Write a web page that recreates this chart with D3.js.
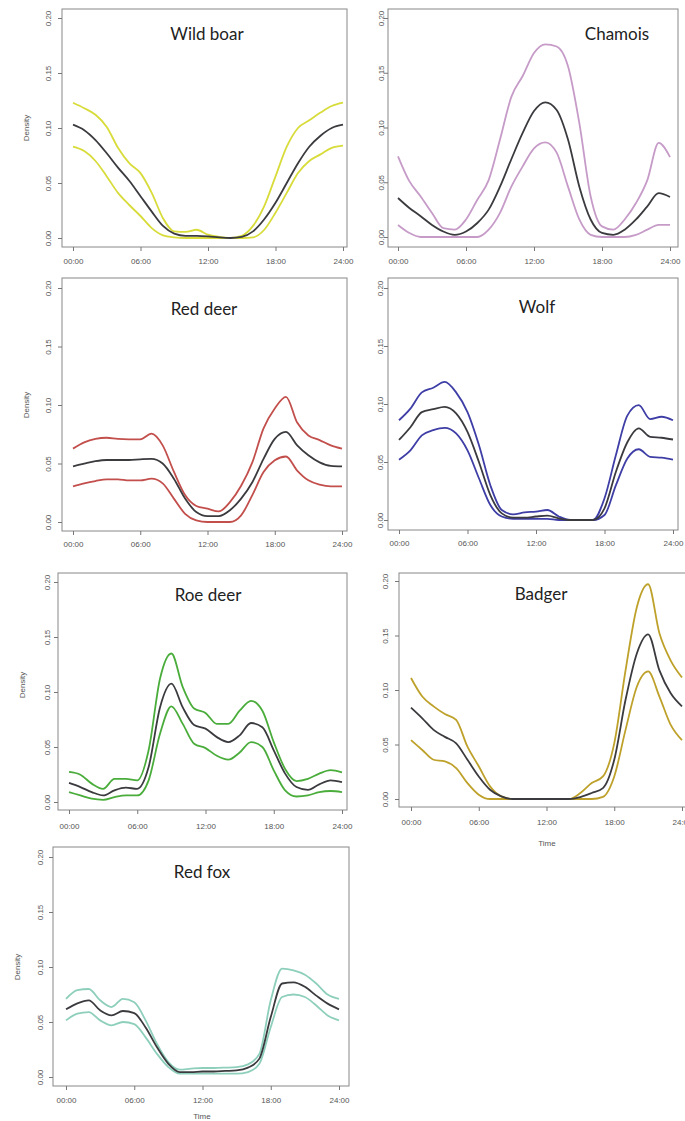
<!DOCTYPE html>
<html lang="en">
<head>
    <meta charset="UTF-8">
    <title>Daily activity density</title>
    <script src="https://d3js.org/d3.v7.min.js"></script>
    <style>
        body { margin: 0; background: #fff; }
        svg { display: block; }
        .tick text { font-family: "Liberation Sans", Arial, sans-serif; font-size: 8px; fill: #555; }
        .tick line { stroke: #777; }
        .title { font-family: Lato, "Open Sans", sans-serif; font-size: 17px; fill: #222; }
        .lab { font-family: "Liberation Sans", Arial, sans-serif; font-size: 8px; fill: #555; }
    </style>
</head>
<body>
<div id="chart"></div>
<script>
// hour of day (x)
const hours = [0,1,2,3,4,5,6,7,8,9,10,11,12,13,14,15,16,17,18,19,20,21,22,23,24];
const xTicks = [0, 6, 12, 18, 24];
const xTickLabels = ["00:00", "06:00", "12:00", "18:00", "24:00"];
const yTicks = [0, 0.05, 0.10, 0.15, 0.20];

// density: mean and confidence bounds, one value per hour
const boarMean  = [0.103,0.098,0.089,0.077,0.064,0.052,0.038,0.024,0.011,0.004,0.002,0.002,0.0015,0.0005,0,0.001,0.006,0.017,0.032,0.050,0.068,0.083,0.093,0.100,0.103];
const boarUpper = [0.123,0.118,0.112,0.101,0.082,0.068,0.059,0.041,0.018,0.006,0.0055,0.0075,0.003,0.001,0,0.002,0.011,0.029,0.056,0.083,0.100,0.107,0.114,0.120,0.123];
const boarLower = [0.083,0.079,0.070,0.056,0.041,0.030,0.020,0.009,0.0024,0.0006,0,0,0,0,0,0,0.0006,0.0075,0.023,0.041,0.059,0.070,0.076,0.082,0.084];

const chamoisMean  = [0.0356,0.0265,0.019,0.011,0.005,0.002,0.005,0.0128,0.025,0.046,0.071,0.095,0.115,0.123,0.116,0.089,0.046,0.016,0.0037,0.002,0.0067,0.016,0.028,0.040,0.0365];
const chamoisUpper = [0.0737,0.051,0.037,0.022,0.008,0.0067,0.016,0.034,0.052,0.089,0.128,0.147,0.168,0.176,0.174,0.156,0.104,0.037,0.0097,0.0067,0.016,0.031,0.052,0.086,0.073];
const chamoisLower = [0.011,0.0037,0,0,0,0,0,0,0.0067,0.022,0.046,0.0645,0.081,0.0865,0.077,0.046,0.016,0.002,0,0,0,0.002,0.0067,0.011,0.011];

const redDeerMean  = [0.0476,0.0499,0.052,0.053,0.053,0.053,0.0536,0.054,0.050,0.037,0.020,0.0085,0.005,0.005,0.010,0.020,0.034,0.054,0.071,0.077,0.0655,0.057,0.051,0.048,0.0476];
const redDeerUpper = [0.0627,0.068,0.071,0.072,0.071,0.0707,0.0707,0.0755,0.0655,0.043,0.023,0.0137,0.0114,0.009,0.017,0.031,0.051,0.080,0.097,0.107,0.085,0.074,0.070,0.0655,0.0627];
const redDeerLower = [0.0305,0.033,0.035,0.0365,0.0365,0.0356,0.0356,0.037,0.033,0.020,0.007,0.0014,0,0,0,0.0057,0.023,0.0427,0.0527,0.056,0.044,0.0356,0.032,0.0305,0.0305];

const wolfMean  = [0.069,0.080,0.093,0.0955,0.0976,0.092,0.076,0.050,0.0215,0.0057,0.002,0.002,0.003,0.0037,0.0014,0,0,0,0.010,0.0416,0.067,0.079,0.0717,0.0709,0.0694];
const wolfUpper = [0.086,0.096,0.110,0.114,0.119,0.110,0.093,0.0646,0.030,0.0086,0.0049,0.0066,0.0072,0.0086,0.003,0,0,0,0.0187,0.056,0.090,0.099,0.087,0.089,0.086];
const wolfLower = [0.052,0.060,0.073,0.0775,0.0795,0.0746,0.060,0.036,0.0129,0.003,0.001,0.001,0.001,0.001,0,0,0,0,0.0043,0.030,0.053,0.061,0.0545,0.0537,0.052];

const roeMean  = [0.0173,0.0136,0.009,0.006,0.0106,0.013,0.012,0.0318,0.086,0.1076,0.086,0.070,0.0667,0.059,0.0545,0.0606,0.0718,0.068,0.047,0.0258,0.0136,0.011,0.016,0.0197,0.018];
const roeUpper = [0.0273,0.0248,0.0167,0.012,0.021,0.021,0.0197,0.047,0.112,0.135,0.1045,0.085,0.081,0.071,0.071,0.083,0.092,0.083,0.0545,0.030,0.019,0.021,0.0258,0.029,0.027];
const roeLower = [0.009,0.006,0.003,0.002,0.0045,0.006,0.006,0.0197,0.062,0.087,0.071,0.053,0.049,0.042,0.0385,0.045,0.0545,0.050,0.0288,0.0106,0.005,0.006,0.009,0.010,0.009];

const badgerMean  = [0.0838,0.074,0.0634,0.057,0.051,0.036,0.0207,0.0085,0.0024,0,0,0,0,0,0,0.0018,0.0055,0.010,0.036,0.091,0.1335,0.151,0.118,0.097,0.085];
const badgerUpper = [0.111,0.094,0.085,0.078,0.0726,0.048,0.030,0.0116,0.0024,0,0,0,0,0,0,0.0055,0.0146,0.0207,0.051,0.118,0.176,0.197,0.152,0.127,0.1115];
const badgerLower = [0.054,0.045,0.036,0.0345,0.0284,0.0146,0.004,0,0,0,0,0,0,0,0,0,0,0.002,0.0207,0.0634,0.103,0.117,0.094,0.068,0.054];

const foxMean  = [0.0615,0.067,0.0697,0.0606,0.056,0.060,0.058,0.045,0.027,0.012,0.0045,0.0045,0.005,0.005,0.0055,0.006,0.0085,0.0167,0.0545,0.085,0.086,0.082,0.074,0.0667,0.0615];
const foxUpper = [0.071,0.079,0.080,0.0697,0.0636,0.071,0.068,0.0515,0.030,0.0136,0.0067,0.0076,0.0082,0.0082,0.0085,0.009,0.0115,0.021,0.0697,0.0985,0.097,0.093,0.085,0.075,0.071];
const foxLower = [0.0515,0.0576,0.059,0.0515,0.047,0.050,0.048,0.036,0.021,0.009,0.003,0.003,0.003,0.003,0.003,0.003,0.0045,0.012,0.0455,0.0727,0.075,0.0727,0.065,0.056,0.0515];

// panel layout (pixel positions of each pasted plot)
const panels = [
    { name: "Wild boar", color: "#d8dc3a", mean: boarMean, upper: boarUpper, lower: boarLower,
      box: [62, 9, 347, 247], xr: [73, 343], yr: [238, 18], yLabX: 48, xLabY: 262, title: [207, 40], density: [26, 128] },
    { name: "Chamois", color: "#c69bc8", mean: chamoisMean, upper: chamoisUpper, lower: chamoisLower,
      box: [388, 9, 678, 247], xr: [398, 670], yr: [237, 18], yLabX: 381, xLabY: 262, title: [617, 40] },
    { name: "Red deer", color: "#c24f4c", mean: redDeerMean, upper: redDeerUpper, lower: redDeerLower,
      box: [62, 278, 347, 531], xr: [73, 342], yr: [522, 288], yLabX: 48, xLabY: 545, title: [204, 315], density: [26, 405] },
    { name: "Wolf", color: "#3e3ea6", mean: wolfMean, upper: wolfUpper, lower: wolfLower,
      box: [388, 278, 678, 530], xr: [399, 673], yr: [520, 288], yLabX: 380, xLabY: 544, title: [537, 313] },
    { name: "Roe deer", color: "#4aad3b", mean: roeMean, upper: roeUpper, lower: roeLower,
      box: [58, 573, 347, 810], xr: [69, 342], yr: [802, 582], yLabX: 47, xLabY: 827, title: [208, 601], density: [22, 685] },
    { name: "Badger", color: "#bea12a", mean: badgerMean, upper: badgerUpper, lower: badgerLower,
      box: [399, 573, 700, 807], xr: [411, 682], yr: [799, 581], yLabX: 385, xLabY: 823, title: [541, 600], time: [547, 846] },
    { name: "Red fox", color: "#8ecfbc", mean: foxMean, upper: foxUpper, lower: foxLower,
      box: [53, 847, 349, 1086], xr: [66, 339], yr: [1077, 857], yLabX: 40, xLabY: 1101, title: [202, 878], density: [17, 967], time: [202, 1119] }
];

const svg = d3.select("#chart").append("svg")
    .attr("width", 685)
    .attr("height", 1121);

panels.forEach(p => {
    const [l, t, r, b] = p.box;
    const x = d3.scaleLinear().domain([0, 24]).range(p.xr);
    const y = d3.scaleLinear().domain([0, 0.2]).range(p.yr);
    const g = svg.append("g");

    const line = d3.line()
        .x((d, i) => x(hours[i]))
        .y(d => y(d))
        .curve(d3.curveMonotoneX);

    [p.upper, p.lower].forEach(s => {
        g.append("path")
            .attr("d", line(s))
            .attr("fill", "none")
            .attr("stroke", p.color)
            .attr("stroke-width", 1.8)
            .attr("stroke-linejoin", "round");
    });
    g.append("path")
        .attr("d", line(p.mean))
        .attr("fill", "none")
        .attr("stroke", "#3b3b3f")
        .attr("stroke-width", 1.8)
        .attr("stroke-linejoin", "round");

    // box
    g.append("rect")
        .attr("x", l).attr("y", t)
        .attr("width", r - l).attr("height", b - t)
        .attr("fill", "none")
        .attr("stroke", "#888")
        .attr("stroke-width", 1);

    // x axis
    const xAxis = d3.axisBottom(x)
        .tickValues(xTicks)
        .tickFormat((d, i) => xTickLabels[i])
        .tickSize(4)
        .tickPadding(p.xLabY - b - 8);
    const gx = g.append("g")
        .attr("transform", `translate(0,${b})`)
        .call(xAxis);
    gx.select(".domain").remove();

    // y axis, labels turned to read upwards
    const yAxis = d3.axisLeft(y)
        .tickValues(yTicks)
        .tickFormat(d3.format(".2f"))
        .tickSize(4);
    const gy = g.append("g")
        .attr("transform", `translate(${l},0)`)
        .call(yAxis);
    gy.select(".domain").remove();
    gy.selectAll(".tick text")
        .attr("x", null)
        .attr("dy", "0.35em")
        .attr("text-anchor", "middle")
        .attr("transform", `translate(${p.yLabX - l},0) rotate(-90)`);

    g.append("text")
        .attr("class", "title")
        .attr("x", p.title[0])
        .attr("y", p.title[1])
        .attr("text-anchor", "middle")
        .text(p.name);

    if (p.density) {
        g.append("text")
            .attr("class", "lab")
            .attr("text-anchor", "middle")
            .attr("dy", "0.35em")
            .attr("transform", `translate(${p.density[0]},${p.density[1]}) rotate(-90)`)
            .text("Density");
    }
    if (p.time) {
        g.append("text")
            .attr("class", "lab")
            .attr("x", p.time[0])
            .attr("y", p.time[1])
            .attr("text-anchor", "middle")
            .text("Time");
    }
});
</script>
</body>
</html>
